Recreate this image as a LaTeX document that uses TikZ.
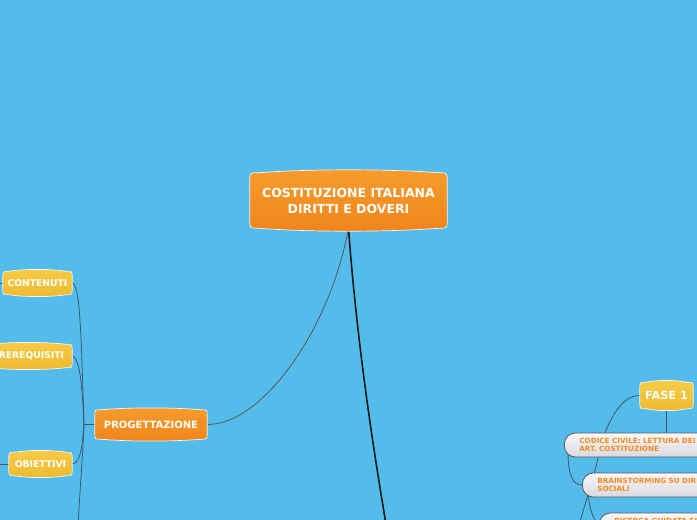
\documentclass[tikz,border=0pt]{standalone}
\usepackage{fontspec}
\setmainfont{DejaVu Sans}
\usetikzlibrary{calc}
\pgfdeclarelayer{bg}
\pgfdeclarelayer{lines}
\pgfdeclarelayer{shapes}
\pgfsetlayers{bg,lines,shapes,main}
\definecolor{sky}{HTML}{54BCEB}
\definecolor{orA}{HTML}{F89C2C}
\definecolor{orB}{HTML}{F0841C}
\definecolor{yeA}{HTML}{F7CB47}
\definecolor{yeB}{HTML}{EDBA30}
\definecolor{wtA}{HTML}{F8F8FA}
\definecolor{wtB}{HTML}{D8D8DE}
\definecolor{txtor}{HTML}{F58B20}
\definecolor{lnk}{HTML}{3E5870}
\tikzset{
 box/.style={inner sep=0pt, align=center, text=white},
 pill/.style={anchor=west, align=left, inner ysep=0pt, minimum height=24pt,
   font=\fontsize{7.2}{8.4}\selectfont\bfseries, text=txtor,
   draw=black!65, line width=0.8pt, rounded corners=11pt,
   top color=wtA, bottom color=wtB, minimum width=230pt, text width=200pt},
 link/.style={draw=lnk, line width=0.8pt},
 trunk/.style={draw=black!90, line width=1.6pt},
 ytext/.style={font=\fontsize{9.2}{10}\selectfont\bfseries},
}
\begin{document}
\begin{tikzpicture}[x=1pt,y=-1pt]
\useasboundingbox (0,0) rectangle (697,520);
\begin{pgfonlayer}{bg}
\fill[sky] (0,0) rectangle (697,520);
\end{pgfonlayer}

% nodes
\node[box, minimum width=197pt, minimum height=55pt, font=\fontsize{12.5}{16}\selectfont\bfseries] (main) at (348.5,200.5) {COSTITUZIONE ITALIANA\\DIRITTI E DOVERI};
\node[box, minimum width=112pt, minimum height=29pt, font=\fontsize{10}{12}\selectfont\bfseries] (prog) at (151,424.5) {PROGETTAZIONE};
\node[box, ytext, minimum width=69pt, minimum height=23pt] (cont) at (37.5,283) {CONTENUTI};
\node[box, ytext, minimum width=88pt, minimum height=23pt] (pre) at (28,356) {PREREQUISITI};
\node[box, ytext, minimum width=63pt, minimum height=23pt] (obi) at (40.5,464) {OBIETTIVI};
\node[box, minimum width=53pt, minimum height=26pt, font=\fontsize{11.3}{13}\selectfont\bfseries] (fase) at (666.5,395.5) {FASE 1};

\node[pill, inner xsep=15pt] (codice) at (564,445) {CODICE CIVILE: LETTURA DEI\\ART. COSTITUZIONE};
\node[pill, inner xsep=15pt] (brain) at (582,485) {BRAINSTORMING SU DIRITTI\\SOCIALI};
\node[pill, inner xsep=11pt, text depth=9pt] (ric) at (599,525) {RICERCA GUIDATA SU};

% shapes
\begin{pgfonlayer}{shapes}
\foreach \nm/\a/\b/\r/\k in {main/orA/orB/8pt/4pt, prog/orA/orB/6pt/2.5pt, cont/yeA/yeB/6pt/2.5pt, pre/yeA/yeB/6pt/2.5pt, obi/yeA/yeB/6pt/2.5pt, fase/yeA/yeB/6pt/2.5pt}{
  \path[top color=\a, bottom color=\b, draw=white!92!gray, line width=0.7pt]
   let \p1=(\nm.north west), \p2=(\nm.south east) in
   (\x1,\y2+\r) -- (\x1,\y1-\r) .. controls (\x1,\y1) .. (\x1+\r,\y1)
   .. controls ({\x1+0.3*(\x2-\x1)},\y1+\k) and ({\x2-0.3*(\x2-\x1)},\y1+\k) .. (\x2-\r,\y1)
   .. controls (\x2,\y1) .. (\x2,\y1-\r) -- (\x2,\y2+\r)
   .. controls (\x2,\y2) .. (\x2-\r,\y2)
   .. controls ({\x2-0.3*(\x2-\x1)},\y2-\k) and ({\x1+0.3*(\x2-\x1)},\y2-\k) .. (\x1+\r,\y2)
   .. controls (\x1,\y2) .. (\x1,\y2+\r) -- cycle;
}
\end{pgfonlayer}

% connectors
\begin{pgfonlayer}{lines}
\coordinate (endA) at (387,530);
\coordinate (hub) at (84,424.5);
\coordinate (endB) at (78,530);
\coordinate (cl) at (-5,283);
\coordinate (ol) at (-5,464);
\coordinate (endC) at (578,530);
\draw[link, draw=black!65] (main.south) .. controls (330,330) and (262,425) .. (prog.east);
\draw[trunk] (main.south) .. controls (356,330) and (370,430) .. (endA);
\draw[link] (prog.west) -- (hub);
\draw[link] (hub) .. controls (81,330) and (80,285) .. (cont.east);
\draw[link] (hub) .. controls (82,385) and (80,358) .. (pre.east);
\draw[link] (hub) .. controls (82,450) and (80,463) .. (obi.east);
\draw[link] (hub) .. controls (82,470) and (79,500) .. (endB);
\draw[link] (cont.west) -- (cl);
\draw[link] (obi.west) -- (ol);
\draw[link] (fase.south) -- (fase.south |- codice.north);
\draw[link] (fase.west) .. controls (622,395) and (606,420) .. (598,458) .. controls (592,485) and (584,505) .. (endC);
\draw[link] ($(codice.west)+(4,6)$) .. controls (568,478) and (574,485) .. (brain.west);
\draw[link] ($(brain.west)+(6,9)$) .. controls (590,512) and (594,520) .. (ric.west);
\end{pgfonlayer}
\end{tikzpicture}
\end{document}
